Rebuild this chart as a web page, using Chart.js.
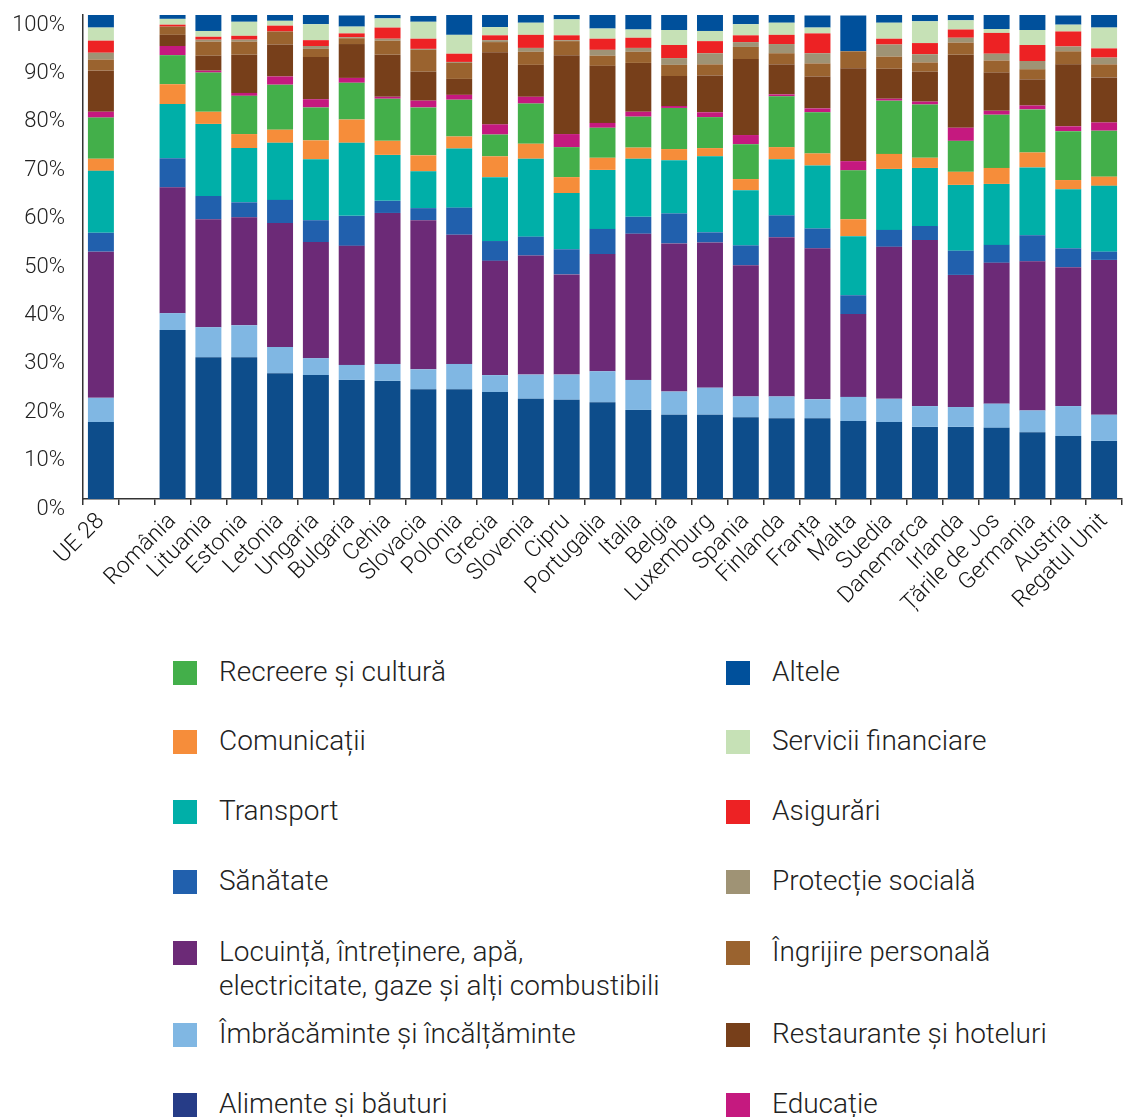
<!DOCTYPE html>
<html lang="ro">
<head>
<meta charset="utf-8">
<title>Structura cheltuielilor gospodăriilor</title>
<script src="https://cdn.jsdelivr.net/npm/chart.js@4.4.1/dist/chart.umd.min.js"></script>
<style>
  body { margin: 0; background: #fff; color: #222; font-family: Roboto, "Liberation Sans", sans-serif; }
  #wrap { position: relative; width: 1129px; height: 1117px; }
  #chartBox { position: absolute; left: 0; top: 0; width: 1129px; height: 620px; }
  .item { position: absolute; font-size: 28px; font-weight: 300; line-height: 34px; }
  .item .box { position: absolute; left: 0; top: 6px; width: 24px; height: 24px; }
  .item .txt { position: absolute; left: 46px; top: 0; white-space: nowrap; }
</style>
</head>
<body>
<div id="wrap">
  <div id="chartBox"><canvas id="chart"></canvas></div>
  <div id="legend"></div>
</div>
<script>
// --------------------------
// date (% din total cheltuieli)
// --------------------------
const countries = ['UE 28', '', 'România', 'Lituania', 'Estonia', 'Letonia', 'Ungaria', 'Bulgaria', 'Cehia',
  'Slovacia', 'Polonia', 'Grecia', 'Slovenia', 'Cipru', 'Portugalia', 'Italia', 'Belgia', 'Luxemburg',
  'Spania', 'Finlanda', 'Franța', 'Malta', 'Suedia', 'Danemarca', 'Irlanda', 'Țările de Jos',
  'Germania', 'Austria', 'Regatul Unit'];

const alimente     = [15.9, null, 34.9, 29.3, 29.3, 26.0, 25.6, 24.6, 24.4, 22.7, 22.7, 22.1, 20.7, 20.5, 20.0, 18.4, 17.4, 17.4, 16.9, 16.7, 16.7, 16.1, 15.9, 14.9, 14.9, 14.7, 13.8, 13.0, 12.0];
const imbracaminte = [5.0, null, 3.5, 6.2, 6.6, 5.4, 3.5, 3.1, 3.5, 4.1, 5.2, 3.5, 5.0, 5.2, 6.4, 6.2, 4.8, 5.6, 4.3, 4.5, 3.9, 5.0, 4.8, 4.3, 4.1, 5.0, 4.5, 6.2, 5.4];
const locuinta     = [30.2, null, 26.0, 22.3, 22.3, 25.6, 24.0, 24.6, 31.2, 30.8, 26.7, 23.6, 24.6, 20.7, 24.2, 30.2, 30.6, 30.0, 27.1, 32.9, 31.2, 17.1, 31.4, 34.3, 27.3, 29.1, 30.8, 28.7, 32.0];
const sanatate     = [3.9, null, 6.0, 4.8, 3.1, 4.8, 4.5, 6.2, 2.5, 2.5, 5.6, 4.1, 3.9, 5.2, 5.2, 3.5, 6.2, 2.1, 4.1, 4.5, 4.1, 3.9, 3.5, 2.9, 5.0, 3.7, 5.4, 3.9, 1.7];
const transport    = [12.8, null, 11.2, 14.9, 11.2, 11.8, 12.6, 15.1, 9.5, 7.6, 12.2, 13.2, 16.1, 11.6, 12.2, 12.0, 11.0, 15.7, 11.4, 11.6, 13.0, 12.2, 12.6, 12.0, 13.6, 12.6, 14.0, 12.2, 13.6];
const comunicatii  = [2.5, null, 4.1, 2.5, 2.9, 2.7, 3.9, 4.8, 2.9, 3.3, 2.5, 4.3, 3.1, 3.3, 2.5, 2.3, 2.3, 1.7, 2.3, 2.5, 2.5, 3.5, 3.1, 2.1, 2.7, 3.3, 3.1, 1.9, 1.9];
const recreere     = [8.5, null, 6.0, 8.1, 7.9, 9.3, 6.8, 7.6, 8.7, 9.9, 7.6, 4.5, 8.3, 6.2, 6.2, 6.4, 8.5, 6.4, 7.2, 10.5, 8.5, 10.1, 11.0, 11.0, 6.4, 11.0, 8.9, 10.1, 9.5];
const educatie     = [1.2, null, 1.9, 0.4, 0.6, 1.7, 1.7, 1.0, 0.4, 1.4, 1.0, 2.1, 1.4, 2.7, 1.0, 1.0, 0.4, 1.0, 1.9, 0.4, 0.8, 1.9, 0.4, 0.6, 2.7, 0.8, 0.8, 1.0, 1.7];
const restaurante  = [8.5, null, 2.3, 3.1, 7.9, 6.6, 8.7, 7.0, 8.7, 6.0, 3.3, 14.9, 6.6, 16.3, 11.8, 10.1, 6.2, 7.6, 15.7, 6.2, 6.6, 19.2, 6.2, 6.2, 15.1, 7.9, 5.4, 12.8, 9.3];
const ingrijire    = [2.3, null, 1.7, 2.9, 2.7, 2.7, 1.7, 1.2, 2.9, 4.5, 3.3, 2.1, 2.7, 2.9, 2.1, 2.3, 2.3, 2.3, 2.5, 2.3, 2.7, 3.5, 2.5, 1.9, 2.5, 2.5, 2.1, 2.7, 2.7];
const protectie    = [1.4, null, 0, 0.4, 0.4, 0, 0.6, 0.2, 0.4, 0.2, 0.2, 0.4, 0.8, 0.2, 1.2, 0.8, 1.4, 2.3, 1.0, 1.9, 2.1, 0, 2.5, 1.7, 1.0, 1.4, 1.7, 1.0, 1.4];
const asigurari    = [2.5, null, 0.4, 0.6, 0.8, 1.2, 1.2, 0.8, 2.3, 2.1, 1.7, 1.0, 2.7, 1.0, 2.3, 2.1, 2.7, 2.5, 1.4, 1.9, 4.1, 0, 1.2, 2.3, 1.7, 4.3, 3.3, 3.1, 1.9];
const serviciiFin  = [2.7, null, 1.2, 1.2, 2.9, 1.0, 3.3, 1.4, 1.9, 3.5, 3.9, 1.7, 2.5, 3.3, 2.1, 1.7, 3.1, 2.1, 2.3, 2.5, 1.2, 0, 3.3, 4.5, 1.9, 0.8, 3.1, 1.4, 4.3];
const altele       = [2.6, null, 0.8, 3.3, 1.4, 1.2, 1.9, 2.3, 0.8, 1.2, 4.1, 2.5, 1.7, 1.0, 2.9, 3.1, 3.3, 3.5, 1.9, 1.7, 2.5, 7.4, 1.7, 1.4, 1.2, 2.9, 3.1, 1.9, 2.7];

const yTicks = [0, 10, 20, 30, 40, 50, 60, 70, 80, 90, 100];

// serii de jos în sus
const series = [
  { label: 'Alimente și băuturi', data: alimente, color: '#0d4d8b', legendColor: '#263c87' },
  { label: 'Îmbrăcăminte și încălțăminte', data: imbracaminte, color: '#80b7e3' },
  { label: 'Locuință, întreținere, apă,\nelectricitate, gaze și alți combustibili', data: locuinta, color: '#6c2a77' },
  { label: 'Sănătate', data: sanatate, color: '#2160ad' },
  { label: 'Transport', data: transport, color: '#00afa8' },
  { label: 'Comunicații', data: comunicatii, color: '#f68d3a' },
  { label: 'Recreere și cultură', data: recreere, color: '#43af4a' },
  { label: 'Educație', data: educatie, color: '#c5197f' },
  { label: 'Restaurante și hoteluri', data: restaurante, color: '#773f1a' },
  { label: 'Îngrijire personală', data: ingrijire, color: '#9a632f' },
  { label: 'Protecție socială', data: protectie, color: '#9f9375' },
  { label: 'Asigurări', data: asigurari, color: '#ed2224' },
  { label: 'Servicii financiare', data: serviciiFin, color: '#c6e1b6' },
  { label: 'Altele', data: altele, color: '#00509b' }
];

// --------------------------
// grafic
// --------------------------
const FONT = 'Roboto, "Liberation Sans", sans-serif';

new Chart(document.getElementById('chart'), {
  type: 'bar',
  data: {
    labels: countries,
    datasets: series.map(s => ({
      label: s.label,
      data: s.data,
      backgroundColor: s.color,
      borderWidth: 0,
      categoryPercentage: 1,
      barPercentage: 0.725
    }))
  },
  options: {
    responsive: true,
    maintainAspectRatio: false,
    animation: false,
    layout: { padding: { top: 15, right: 7, left: 0, bottom: 0 } },
    plugins: { legend: { display: false }, tooltip: { enabled: false } },
    scales: {
      x: {
        stacked: true,
        grid: { offset: true, drawOnChartArea: false, drawTicks: true, tickLength: 6, color: '#333', lineWidth: 1.5 },
        border: { display: true, color: '#333', width: 1.5 },
        ticks: {
          autoSkip: false, minRotation: 45, maxRotation: 45, padding: 3,
          color: '#111', font: { family: FONT, size: 23, weight: '300' }
        },
        afterFit: scale => { scale.height = 121; scale.paddingLeft = 0; scale.paddingRight = 0; }
      },
      y: {
        stacked: true,
        min: 0, max: 100,
        afterBuildTicks: scale => { scale.ticks = yTicks.map(v => ({ value: v })); },
        grid: { display: false },
        border: { display: true, color: '#333', width: 1.5 },
        ticks: {
          padding: 10, labelOffset: 10,
          color: '#222', font: { family: FONT, size: 22, weight: '300' },
          callback: v => v + '%'
        },
        afterFit: scale => { scale.width = 83; scale.paddingTop = 0; scale.paddingBottom = 0; }
      }
    }
  }
});

// --------------------------
// legendă (două coloane)
// --------------------------
const leftCol = ['Recreere și cultură', 'Comunicații', 'Transport', 'Sănătate',
  'Locuință, întreținere, apă,\nelectricitate, gaze și alți combustibili', 'Îmbrăcăminte și încălțăminte', 'Alimente și băuturi'];
const rightCol = ['Altele', 'Servicii financiare', 'Asigurări', 'Protecție socială',
  'Îngrijire personală', 'Restaurante și hoteluri', 'Educație'];
const rowTop = [655, 724, 794, 864, 935, 1017, 1087];

function addLegendItem(name, x, y){
  const s = series.find(d => d.label === name);
  const div = document.createElement('div');
  div.className = 'item';
  div.style.left = x + 'px';
  div.style.top = y + 'px';
  const box = document.createElement('div');
  box.className = 'box';
  box.style.background = s.legendColor || s.color;
  const txt = document.createElement('div');
  txt.className = 'txt';
  txt.innerHTML = name.replace('\n', '<br>');
  div.appendChild(box);
  div.appendChild(txt);
  document.getElementById('legend').appendChild(div);
}

leftCol.forEach((n, i) => addLegendItem(n, 173, rowTop[i]));
rightCol.forEach((n, i) => addLegendItem(n, 726, rowTop[i]));
</script>
</body>
</html>
